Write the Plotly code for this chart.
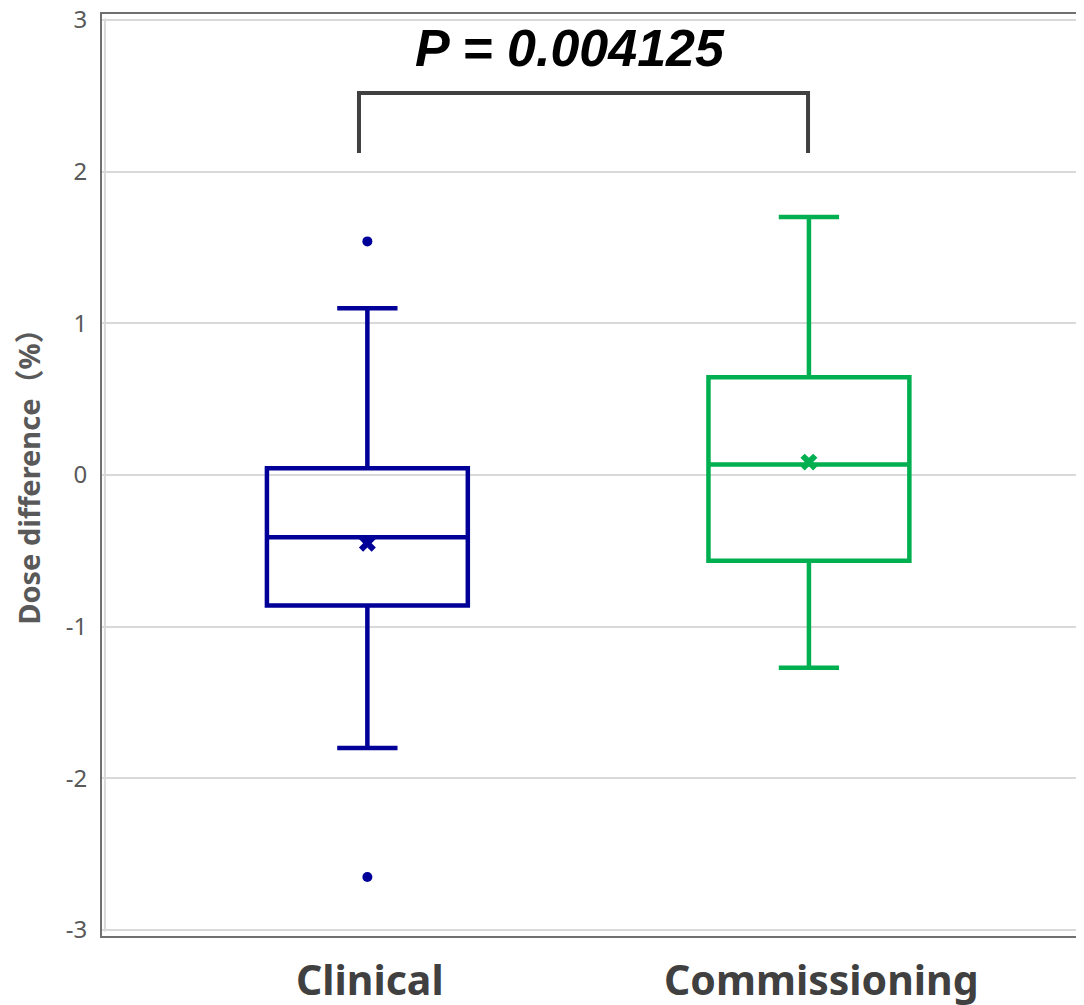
import plotly.graph_objects as go

# ---- data ----
categories = ["Clinical", "Commissioning"]
q1 = [-0.86, -0.565]
median = [-0.41, 0.07]
q3 = [0.045, 0.645]
lower_fence = [-1.80, -1.27]
upper_fence = [1.10, 1.70]
means = [-0.45, 0.085]
outlier_cat = ["Clinical", "Clinical"]
outlier_val = [1.54, -2.65]
p_text = "P = 0.004125"
y_ticks = [-3, -2, -1, 0, 1, 2, 3]

colors = ["#000099", "#00B050"]
label_offsets = [0.006, 0.028]

fig = go.Figure()
for i, cat in enumerate(categories):
    fig.add_trace(go.Box(
        x=[cat], q1=[q1[i]], median=[median[i]], q3=[q3[i]],
        lowerfence=[lower_fence[i]], upperfence=[upper_fence[i]],
        boxpoints=False, width=0.455, whiskerwidth=0.3,
        line=dict(color=colors[i], width=4.5),
        fillcolor="rgba(0,0,0,0)", showlegend=False, hoverinfo="skip",
    ))
    fig.add_trace(go.Scatter(
        x=[cat], y=[means[i]], mode="markers",
        marker=dict(symbol="x", size=15, color=colors[i], line=dict(width=0)),
        showlegend=False, hoverinfo="skip",
    ))
    # category label
    fig.add_annotation(x=i + label_offsets[i], y=0, xref="x", yref="paper",
                       yanchor="top", yshift=-13, showarrow=False,
                       text="<b>%s</b>" % cat,
                       font=dict(family="Noto Sans", size=41, color="#404040"))

fig.add_trace(go.Scatter(
    x=outlier_cat, y=outlier_val, mode="markers",
    marker=dict(symbol="circle", size=10, color=colors[0]),
    showlegend=False, hoverinfo="skip",
))

# significance bracket
fig.add_shape(type="path", xref="x", yref="y",
              path="M -0.019 2.123 L -0.019 2.518 L 0.998 2.518 L 0.998 2.123",
              line=dict(color="#404040", width=4))
fig.add_annotation(x=0.459, y=2.815, xref="x", yref="y", showarrow=False,
                   text="<b><i>%s</i></b>" % p_text,
                   font=dict(family="Liberation Sans, Arial", size=52, color="#000000"))

# inner light border on the left
fig.add_shape(type="line", xref="paper", yref="paper", x0=0.003, x1=0.003, y0=0.005, y1=0.995,
              line=dict(color="#d9d9d9", width=2))

fig.add_annotation(xref="paper", yref="paper", x=-0.075, y=0.506, xanchor="center", yanchor="middle",
                   text="<b>Dose difference（%）</b>", textangle=-90, showarrow=False,
                   font=dict(family="Noto Sans, Noto Sans CJK JP", size=29, color="#595959"))

fig.update_layout(
    width=1076, height=997,
    margin=dict(l=94, r=0, t=6, b=69, autoexpand=False),
    paper_bgcolor="white", plot_bgcolor="white",
    xaxis=dict(type="category", categoryorder="array", categoryarray=categories,
               range=[-0.601, 1.623], showgrid=False, zeroline=False, automargin=False,
               showline=True, mirror=True, linecolor="#707070", linewidth=2,
               showticklabels=False),
    yaxis=dict(range=[-3.039, 3.039], tickvals=y_ticks, ticktext=[str(t) for t in y_ticks],
               showgrid=True, gridcolor="#d9d9d9", gridwidth=1.5, zeroline=False, automargin=False,
               showline=True, linecolor="#707070", linewidth=2,
               tickfont=dict(family="Noto Sans", size=24, color="#595959"),
               ticklabelstandoff=8, ticklabeloverflow="allow"),
)

fig.write_html("out.html")
